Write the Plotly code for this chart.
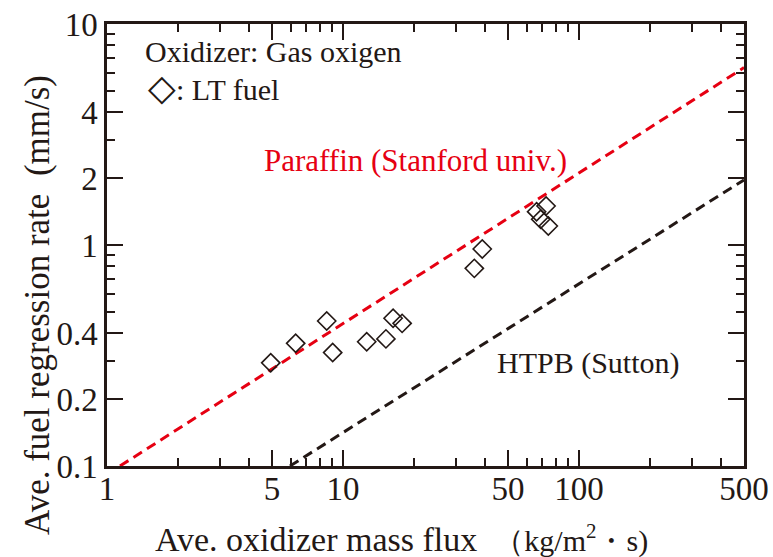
import plotly.graph_objects as go

# LT fuel measurements: average oxidizer mass flux (kg/m^2 s) vs regression rate (mm/s)
lt_flux = [4.94, 6.30, 8.53, 9.04, 12.6, 15.2, 16.3, 17.8, 36.0, 38.9, 66.1, 72.5, 68.8, 74.1]
lt_rate = [0.293, 0.359, 0.453, 0.326, 0.365, 0.376, 0.466, 0.442, 0.784, 0.959, 1.415, 1.501, 1.307, 1.219]

# Reference correlations, drawn as straight lines in log-log space
paraffin_flux = [1.135, 500]
paraffin_rate = [0.1, 6.35]
htpb_flux = [5.96, 500]
htpb_rate = [0.1, 1.97]

x_major = [1, 5, 10, 50, 100, 500]
x_minor = [2, 3, 4, 6, 7, 8, 9, 20, 30, 40, 60, 70, 80, 90, 200, 300, 400]
y_major = [0.1, 0.2, 0.4, 1, 2, 4, 10]
y_major_text = ["0.1", "0.2", "0.4", "1", "2", "4", "10"]
y_minor = [0.3, 0.5, 0.6, 0.7, 0.8, 0.9, 3, 5, 6, 7, 8, 9]

INK = "#231815"
RED = "#e60012"
SERIF = "Liberation Serif, Times New Roman, serif"

fig = go.Figure()

fig.add_trace(go.Scatter(
    x=paraffin_flux, y=paraffin_rate, mode="lines",
    line=dict(color=RED, width=3, dash="10px,6px"), showlegend=False,
))
fig.add_trace(go.Scatter(
    x=htpb_flux, y=htpb_rate, mode="lines",
    line=dict(color=INK, width=3, dash="10px,6px"), showlegend=False,
))
fig.add_trace(go.Scatter(
    x=lt_flux, y=lt_rate, mode="markers",
    marker=dict(symbol="diamond-open", size=14, color=INK, line=dict(width=1.6, color=INK)),
    showlegend=False,
))

axis_common = dict(
    type="log", showgrid=False, zeroline=False, automargin=False,
    showline=True, linecolor=INK, linewidth=2.5, mirror="ticks",
    ticks="inside", ticklen=16, tickwidth=2, tickcolor=INK,
    tickfont=dict(family=SERIF, size=33, color=INK),
)

fig.update_xaxes(
    **axis_common,
    range=[0, 2.69897],
    ticklabelstandoff=-8,
    tickmode="array", tickvals=x_major, ticktext=[str(v) for v in x_major],
    minor=dict(tickmode="array", tickvals=x_minor, ticks="inside", ticklen=8,
               tickwidth=2, tickcolor=INK),
)
fig.update_yaxes(
    **axis_common,
    range=[-1, 1],
    tickmode="array", tickvals=y_major, ticktext=y_major_text,
    minor=dict(tickmode="array", tickvals=y_minor, ticks="inside", ticklen=8,
               tickwidth=2, tickcolor=INK),
)

def label(text, x, y, size=30, color=INK, xanchor="left", angle=0):
    fig.add_annotation(
        text=text, x=x, y=y, xref="paper", yref="paper",
        xanchor=xanchor, yanchor="middle", showarrow=False, textangle=angle,
        font=dict(family=SERIF, size=size, color=color),
    )

label("Oxidizer: Gas oxigen", 0.056, 0.937)
label("<span style='font-size:36px'>◇</span>: LT fuel", 0.062, 0.856)
label("Paraffin (Stanford univ.)", 0.243, 0.692, size=31, color=RED)
label("HTPB (Sutton)", 0.609, 0.233)

label("Ave. oxidizer mass flux  <span style='font-size:30px'>（kg/m<sup>2</sup>・s)</span>",
      0.463, -0.163, size=34, xanchor="center")
label("Ave. fuel regression rate  (mm/s)", -0.11, 0.364, size=35, xanchor="center", angle=-90)

fig.update_layout(
    width=773, height=557,
    margin=dict(l=107, r=29, t=24, b=91),
    paper_bgcolor="white", plot_bgcolor="white",
    showlegend=False,
)

fig.write_html("out.html")
